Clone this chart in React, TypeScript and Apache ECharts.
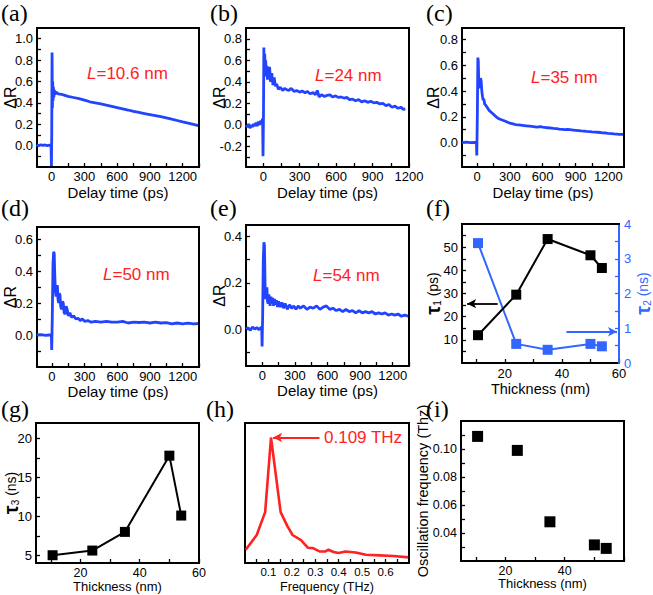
import React, { useEffect, useRef } from "react";
import * as echarts from "echarts";

// ---------- data ----------
const traceA: number[][] = [
  [-140, 0.005], [-120, 0.0], [-100, 0.008], [-80, 0.002], [-60, 0.006], [-40, 0.0], [-20, 0.004], [-6, 0.0],
  [-3, -0.19], [0, 0.1], [3, 0.87], [6, 0.35], [9, 0.6], [12, 0.42], [15, 0.55], [19, 0.45], [24, 0.52],
  [30, 0.48], [40, 0.5], [60, 0.485], [90, 0.48], [120, 0.47], [150, 0.46], [200, 0.45], [250, 0.44],
  [300, 0.425], [350, 0.41], [400, 0.4], [450, 0.39], [500, 0.378], [550, 0.367], [600, 0.355], [650, 0.344],
  [700, 0.333], [750, 0.32], [800, 0.31], [850, 0.3], [900, 0.29], [950, 0.28], [1000, 0.27], [1050, 0.26],
  [1100, 0.247], [1150, 0.235], [1200, 0.222], [1250, 0.21], [1300, 0.198], [1350, 0.185],
];

const traceB: number[][] = [
  [-140, 0.0], [-130, -0.02], [-120, 0.01], [-110, -0.03], [-100, 0.0], [-90, -0.02], [-80, 0.01], [-70, -0.01],
  [-60, 0.02], [-50, -0.01], [-40, 0.03], [-30, 0.0], [-20, 0.04], [-10, 0.02], [-5, 0.06], [-2, -0.29],
  [2, 0.1], [5, 0.72], [8, 0.45], [12, 0.66], [16, 0.5], [20, 0.6], [25, 0.45], [30, 0.55], [35, 0.42],
  [40, 0.52], [45, 0.46], [52, 0.54], [60, 0.4], [70, 0.48], [80, 0.37], [90, 0.44], [100, 0.36], [110, 0.38],
  [125, 0.33], [140, 0.35], [160, 0.32], [175, 0.34], [190, 0.33], [210, 0.32], [230, 0.34], [255, 0.31],
  [275, 0.32], [300, 0.305], [320, 0.315], [345, 0.3], [365, 0.31], [385, 0.29], [410, 0.3], [430, 0.28],
  [445, 0.32], [460, 0.26], [480, 0.28], [505, 0.265], [525, 0.275], [550, 0.28], [570, 0.26], [595, 0.27],
  [620, 0.255], [640, 0.26], [665, 0.25], [690, 0.255], [710, 0.235], [735, 0.24], [760, 0.225], [785, 0.235],
  [810, 0.215], [835, 0.225], [860, 0.21], [885, 0.22], [910, 0.205], [935, 0.21], [960, 0.195], [985, 0.2],
  [1010, 0.18], [1035, 0.19], [1060, 0.165], [1085, 0.175], [1110, 0.155], [1135, 0.165], [1150, 0.145],
  [1170, 0.15],
];

const traceC: number[][] = [
  [-137, 0.0], [-100, 0.003], [-60, 0.0], [-20, 0.002], [-5, 0.0], [-2, -0.1], [3, 0.2], [8, 0.66], [12, 0.63],
  [16, 0.45], [20, 0.48], [26, 0.42], [32, 0.5], [38, 0.48], [44, 0.4], [50, 0.36], [56, 0.33], [62, 0.34],
  [70, 0.3], [80, 0.29], [95, 0.27], [110, 0.25], [130, 0.235], [150, 0.22], [175, 0.2], [200, 0.185],
  [230, 0.175], [260, 0.165], [300, 0.15], [330, 0.145], [350, 0.14], [380, 0.137], [400, 0.135], [430, 0.132],
  [450, 0.13], [480, 0.127], [500, 0.125], [530, 0.122], [550, 0.12], [580, 0.123], [600, 0.12], [630, 0.116],
  [650, 0.115], [680, 0.112], [700, 0.11], [730, 0.108], [750, 0.105], [780, 0.103], [800, 0.1], [830, 0.102],
  [850, 0.1], [880, 0.097], [900, 0.095], [930, 0.092], [950, 0.09], [980, 0.089], [1000, 0.087], [1030, 0.085],
  [1050, 0.083], [1080, 0.081], [1100, 0.08], [1130, 0.078], [1150, 0.075], [1180, 0.074], [1200, 0.072],
  [1230, 0.07], [1250, 0.068], [1280, 0.066], [1300, 0.064], [1343, 0.063],
];

const traceD: number[][] = [
  [-140, 0.0], [-100, 0.002], [-60, -0.002], [-20, 0.0], [-5, 0.0], [-2, -0.094], [3, 0.1], [10, 0.45],
  [16, 0.52], [21, 0.51], [26, 0.38], [32, 0.27], [38, 0.24], [44, 0.3], [50, 0.31], [56, 0.22], [62, 0.2],
  [68, 0.26], [74, 0.25], [80, 0.18], [88, 0.16], [96, 0.21], [104, 0.2], [112, 0.14], [120, 0.13], [130, 0.18],
  [140, 0.16], [150, 0.12], [165, 0.14], [180, 0.11], [200, 0.12], [220, 0.1], [240, 0.105], [260, 0.09],
  [280, 0.1], [300, 0.085], [330, 0.09], [360, 0.08], [400, 0.085], [450, 0.08], [500, 0.085], [550, 0.08],
  [600, 0.08], [650, 0.085], [700, 0.075], [750, 0.08], [800, 0.078], [850, 0.08], [900, 0.075], [950, 0.08],
  [1000, 0.075], [1050, 0.078], [1100, 0.07], [1150, 0.075], [1200, 0.07], [1250, 0.074], [1300, 0.07],
  [1350, 0.072],
];

const traceE: number[][] = [
  [-150, 0.0], [-130, 0.005], [-110, -0.005], [-90, 0.008], [-70, 0.0], [-50, 0.006], [-30, -0.003],
  [-10, 0.008], [-5, 0.0], [-2, -0.075], [3, 0.05], [9, 0.3], [15, 0.375], [20, 0.36], [25, 0.2], [30, 0.13],
  [36, 0.15], [42, 0.18], [48, 0.12], [54, 0.11], [60, 0.15], [66, 0.13], [72, 0.1], [80, 0.14], [88, 0.11],
  [96, 0.135], [104, 0.1], [112, 0.13], [120, 0.105], [130, 0.125], [140, 0.095], [150, 0.12], [165, 0.095],
  [180, 0.115], [195, 0.09], [210, 0.11], [230, 0.085], [250, 0.105], [270, 0.09], [290, 0.1], [310, 0.085],
  [330, 0.1], [350, 0.09], [380, 0.1], [410, 0.085], [440, 0.095], [470, 0.09], [500, 0.1], [530, 0.085],
  [560, 0.095], [590, 0.1], [620, 0.085], [650, 0.09], [680, 0.08], [710, 0.085], [740, 0.075], [770, 0.085],
  [800, 0.075], [830, 0.08], [860, 0.07], [890, 0.08], [920, 0.07], [950, 0.075], [980, 0.07], [1010, 0.075],
  [1040, 0.065], [1070, 0.07], [1100, 0.065], [1130, 0.07], [1160, 0.06], [1190, 0.065], [1220, 0.06],
  [1250, 0.065], [1280, 0.055], [1310, 0.06], [1350, 0.055],
];

const thickness = [10.6, 24, 35, 50, 54];
const tau1 = [12, 29.5, 53.5, 46.5, 41];
const tau2 = [3.45, 0.55, 0.38, 0.55, 0.48];
const tau3 = [5.0, 5.6, 8.0, 17.8, 10.1];
const oscFreq = [0.109, 0.099, 0.048, 0.0315, 0.029];

const spectrum: number[][] = [
  [0.003, 0.104], [0.05, 0.22], [0.086, 0.4], [0.111, 0.986], [0.152, 0.4], [0.181, 0.29], [0.203, 0.22],
  [0.239, 0.18], [0.268, 0.12], [0.29, 0.117], [0.32, 0.09], [0.341, 0.09], [0.356, 0.104], [0.378, 0.086],
  [0.4, 0.078], [0.429, 0.09], [0.472, 0.083], [0.516, 0.065], [0.575, 0.06], [0.633, 0.055], [0.7, 0.044],
];

const delayLabels = [0, 300, 600, 900, 1200];
const delayTicks = [0, 150, 300, 450, 600, 750, 900, 1050, 1200, 1350];
const thickLabels = [20, 40, 60];
const thickTicks = [10, 20, 30, 40, 50, 60];
const freqLabels = [0.1, 0.2, 0.3, 0.4, 0.5, 0.6];
const freqTicks = [0.05, 0.1, 0.15, 0.2, 0.25, 0.3, 0.35, 0.4, 0.45, 0.5, 0.55, 0.6, 0.65];
const lengthLabels = ["10.6", "24", "35", "50", "54"];

// axis ranges per panel: [xmin, xmax, ymin, ymax]
const ranges = [
  [-135, 1350, -0.2, 1.1],
  [-142, 1200, -0.39, 0.9],
  [-137, 1343, -0.19, 0.89],
  [-137, 1350, -0.2, 0.675],
  [-150, 1350, -0.16, 0.45],
  [5, 60, 0, 60],
  [5, 60, 4, 22],
  [0, 0.7, 0, 1.1],
  [5, 60, 0.02, 0.12],
];

// ---------- styling ----------
const FONT = '"Liberation Sans", Arial, Helvetica, sans-serif';
const SERIF = '"Liberation Serif", "Times New Roman", serif';
const BLUE = "#2244ff";
const BLUE2 = "#3366ff";
const RED = "#ff2222";

type AxisCfg = {
  grid: number;
  min: number;
  max: number;
  labels?: number[];
  ticks?: number[];
  fmt?: (v: number) => string;
  name?: string;
  nameGap?: number;
  nameSize?: number;
  labelSize?: number;
  color?: string;
  position?: string;
  margin?: number;
  rich?: any;
  z?: number;
};

function axis(c: AxisCfg): any {
  const color = c.color || "#000";
  return {
    type: "value",
    gridIndex: c.grid,
    min: c.min,
    max: c.max,
    position: c.position,
    z: c.z ?? 0,
    axisLine: { show: true, onZero: false, lineStyle: { color, width: 2 } },
    axisTick: {
      show: !!c.ticks,
      inside: true,
      length: 4,
      customValues: c.ticks,
      lineStyle: { color, width: 1.3 },
    },
    axisLabel: {
      show: !!c.labels,
      customValues: c.labels,
      formatter: c.fmt || ((v: number) => String(v)),
      fontSize: c.labelSize || 13,
      fontFamily: FONT,
      color,
      margin: c.margin ?? 4,
    },
    splitLine: { show: false },
    name: c.name,
    nameLocation: "middle",
    nameGap: c.nameGap ?? 18,
    nameMoveOverlap: false,
    nameRotate: c.position === "left" || c.position === "right" ? 90 : undefined,
    nameTextStyle: { fontSize: c.nameSize || 15, fontFamily: FONT, color, rich: c.rich },
  };
}

const f1 = (v: number) => v.toFixed(1);
const f2 = (v: number) => v.toFixed(2);

const gridBoxes = [
  { left: 37, top: 28, width: 162, height: 139 },
  { left: 246, top: 28, width: 163, height: 139 },
  { left: 462, top: 28, width: 162, height: 139 },
  { left: 37, top: 227, width: 162, height: 140 },
  { left: 246, top: 225, width: 163, height: 141 },
  { left: 462, top: 224, width: 157, height: 139 },
  { left: 36, top: 423, width: 163, height: 140 },
  { left: 245, top: 423, width: 164, height: 140 },
  { left: 461, top: 421, width: 163, height: 140 },
];
const grids = gridBoxes.map((g) => ({ ...g, show: false, containLabel: false, outerBoundsMode: "none" }));

const tauRich = (color: string) => ({
  t: { fontSize: 20, fontWeight: "bold", fontFamily: FONT, color },
  s: { fontSize: 10, fontFamily: FONT, color, padding: [8, 0, 0, 0] },
  p: { fontSize: 14, fontFamily: FONT, color },
});

const arrowItem = (from: number[], to: number[], color: string): any[] => [
  { coord: from, symbol: "none", lineStyle: { color, width: 1.8, type: "solid" } },
  { coord: to, symbol: "arrow", symbolSize: [7, 9] },
];

const markLine = (data: any[]) => ({
  silent: true,
  symbol: ["none", "none"],
  label: { show: false },
  emphasis: { disabled: true },
  lineStyle: { color: "#000", width: 2, type: "solid" },
  data,
});

// box outline (top edge + right edge) of panel g, drawn as an unclipped line along the axis extents
const frameSeries = (g: number, withRight: boolean) => {
  const [x0, x1, y0, y1] = ranges[g];
  const pts = withRight ? [[x0, y1], [x1, y1], [x1, y0]] : [[x0, y1], [x1, y1]];
  return {
    type: "line",
    xAxisIndex: g,
    yAxisIndex: g,
    data: pts,
    showSymbol: false,
    symbol: "none",
    clip: false,
    silent: true,
    z: 6,
    lineStyle: { color: "#000", width: 2, cap: "square" },
    itemStyle: { color: "#000" },
  };
};

function buildOption(): any {
  const R = ranges;
  const xAxis: any[] = [
    axis({ grid: 0, min: R[0][0], max: R[0][1], labels: delayLabels, ticks: delayTicks, name: "Delay time (ps)", nameGap: 18, margin: 3 }),
    axis({ grid: 1, min: R[1][0], max: R[1][1], labels: delayLabels, ticks: delayTicks, name: "Delay time (ps)", nameGap: 18, margin: 3 }),
    axis({ grid: 2, min: R[2][0], max: R[2][1], labels: delayLabels, ticks: delayTicks, name: "Delay time (ps)", nameGap: 18, margin: 3 }),
    axis({ grid: 3, min: R[3][0], max: R[3][1], labels: delayLabels, ticks: delayTicks, name: "Delay time (ps)", nameGap: 17, margin: 3 }),
    axis({ grid: 4, min: R[4][0], max: R[4][1], labels: delayLabels, ticks: delayTicks, name: "Delay time (ps)", nameGap: 17, margin: 3 }),
    axis({ grid: 5, min: R[5][0], max: R[5][1], labels: thickLabels, ticks: thickTicks, name: "Thickness (nm)", nameGap: 18, nameSize: 14.5, margin: 4 }),
    axis({ grid: 6, min: R[6][0], max: R[6][1], labels: thickLabels, ticks: thickTicks, name: "Thickness (nm)", nameGap: 17, nameSize: 13, labelSize: 12.5, margin: 3 }),
    axis({ grid: 7, min: R[7][0], max: R[7][1], labels: freqLabels, ticks: freqTicks, fmt: f1, name: "Frequency (THz)", nameGap: 17, nameSize: 12.5, labelSize: 11.5, margin: 3 }),
    axis({ grid: 8, min: R[8][0], max: R[8][1], labels: [20, 40], ticks: thickTicks, name: "Thickness (nm)", nameGap: 16, nameSize: 13, labelSize: 12.5, margin: 3 }),
  ];
  const yAxis: any[] = [
    axis({ grid: 0, min: R[0][2], max: R[0][3], labels: [0, 0.2, 0.4, 0.6, 0.8, 1.0], ticks: [-0.1, 0, 0.1, 0.2, 0.3, 0.4, 0.5, 0.6, 0.7, 0.8, 0.9, 1.0], fmt: f1, name: "ΔR", nameGap: 19, nameSize: 16, position: "left" }),
    axis({ grid: 1, min: R[1][2], max: R[1][3], labels: [-0.2, 0, 0.2, 0.4, 0.6, 0.8], ticks: [-0.3, -0.2, -0.1, 0, 0.1, 0.2, 0.3, 0.4, 0.5, 0.6, 0.7, 0.8], fmt: f1, name: "ΔR", nameGap: 19, nameSize: 16, position: "left" }),
    axis({ grid: 2, min: R[2][2], max: R[2][3], labels: [0, 0.2, 0.4, 0.6, 0.8], ticks: [-0.1, 0, 0.1, 0.2, 0.3, 0.4, 0.5, 0.6, 0.7, 0.8], fmt: f1, name: "ΔR", nameGap: 21, nameSize: 16, position: "left" }),
    axis({ grid: 3, min: R[3][2], max: R[3][3], labels: [0, 0.2, 0.4, 0.6], ticks: [-0.1, 0, 0.1, 0.2, 0.3, 0.4, 0.5, 0.6], fmt: f1, name: "ΔR", nameGap: 19, nameSize: 16, position: "left" }),
    axis({ grid: 4, min: R[4][2], max: R[4][3], labels: [0, 0.2, 0.4], ticks: [-0.1, 0, 0.1, 0.2, 0.3, 0.4], fmt: f1, name: "ΔR", nameGap: 19, nameSize: 16, position: "left" }),
    axis({ grid: 5, min: R[5][2], max: R[5][3], labels: [10, 20, 30, 40, 50], ticks: [5, 10, 15, 20, 25, 30, 35, 40, 45, 50, 55], name: "{t|τ}{s|1}{p| (ps)}", nameGap: 19, position: "left", rich: tauRich("#000") }),
    axis({ grid: 6, min: R[6][2], max: R[6][3], labels: [5, 10, 15, 20], ticks: [5, 7.5, 10, 12.5, 15, 17.5, 20], name: "{t|τ}{s|3}{p| (ns)}", nameGap: 15, position: "left", labelSize: 13, rich: tauRich("#000") }),
    axis({ grid: 7, min: R[7][2], max: R[7][3], position: "left" }),
    axis({ grid: 8, min: R[8][2], max: R[8][3], labels: [0.04, 0.06, 0.08, 0.1], ticks: [0.03, 0.04, 0.05, 0.06, 0.07, 0.08, 0.09, 0.1, 0.11], fmt: f2, name: "Oscillation frequency (Thz)", nameGap: 31, nameSize: 14.5, labelSize: 12.5, position: "left" }),
    axis({ grid: 5, min: 0, max: 4, labels: [0, 1, 2, 3, 4], ticks: [0.5, 1, 1.5, 2, 2.5, 3, 3.5], name: "{t|τ}{s|2}{p| (ns)}", nameGap: 14, position: "right", color: BLUE2, margin: 5, rich: tauRich(BLUE2), z: 20 }),
  ];

  const traces = [traceA, traceB, traceC, traceD, traceE];
  const series: any[] = traces.map((d, i) => ({
    type: "line",
    xAxisIndex: i,
    yAxisIndex: i,
    data: d,
    showSymbol: false,
    clip: true,
    lineStyle: { color: BLUE, width: 2.8 },
    itemStyle: { color: BLUE },
  }));

  series.push({
    type: "line",
    xAxisIndex: 5,
    yAxisIndex: 5,
    data: thickness.map((t, i) => [t, tau1[i]]),
    symbol: "rect",
    symbolSize: 10,
    lineStyle: { color: "#000", width: 2 },
    itemStyle: { color: "#000", opacity: 1 },
    markLine: markLine([arrowItem([17.5, 25.6], [6.8, 25.6], "#000")]),
    z: 3,
  });
  series.push({
    type: "line",
    xAxisIndex: 5,
    yAxisIndex: 9,
    data: thickness.map((t, i) => [t, tau2[i]]),
    symbol: "rect",
    symbolSize: 10,
    lineStyle: { color: BLUE2, width: 2 },
    itemStyle: { color: BLUE2, opacity: 1 },
    markLine: markLine([arrowItem([41.6, 0.9], [59.3, 0.9], BLUE2)]),
    z: 2,
  });
  series.push({
    type: "line",
    xAxisIndex: 6,
    yAxisIndex: 6,
    data: thickness.map((t, i) => [t, tau3[i]]),
    symbol: "rect",
    symbolSize: 10,
    lineStyle: { color: "#000", width: 2 },
    itemStyle: { color: "#000", opacity: 1 },
  });
  series.push({
    type: "line",
    xAxisIndex: 7,
    yAxisIndex: 7,
    data: spectrum,
    showSymbol: false,
    lineStyle: { color: RED, width: 2.6 },
    itemStyle: { color: RED },
    markLine: markLine([arrowItem([0.318, 0.986], [0.12, 0.986], RED)]),
  });
  series.push({
    type: "scatter",
    xAxisIndex: 8,
    yAxisIndex: 8,
    data: thickness.map((t, i) => [t, oscFreq[i]]),
    symbol: "rect",
    symbolSize: 11,
    itemStyle: { color: "#000", opacity: 1 },
  });
  // panel box outlines (top and right edges; (f) has its blue axis on the right)
  for (let g = 0; g < 9; g++) series.push(frameSeries(g, g !== 5));

  const letters = ["(a)", "(b)", "(c)", "(d)", "(e)", "(f)", "(g)", "(h)", "(i)"];
  const letterPos = [
    [1, 13], [210, 13], [426, 13],
    [1, 208], [210, 208], [426, 208],
    [1, 409], [206, 409], [426, 409],
  ];
  const lPos = [[87, 73], [315, 75], [531, 77], [103, 274], [313, 275]];

  const graphic: any[] = [];
  gridBoxes.forEach((g, i) => {
    graphic.push({
      type: "rect",
      silent: true,
      z: 50,
      shape: { x: g.left - 1, y: g.top - 1, width: g.width + 2, height: 2 },
      style: { fill: "#000" },
    });
    if (i !== 5) {
      graphic.push({
        type: "rect",
        silent: true,
        z: 50,
        shape: { x: g.left + g.width - 1, y: g.top - 1, width: 2, height: g.height + 2 },
        style: { fill: "#000" },
      });
    }
  });
  letters.forEach((t, i) => {
    graphic.push({
      type: "text",
      x: letterPos[i][0],
      y: letterPos[i][1],
      silent: true,
      style: { text: t, fill: "#000", fontSize: 24, fontFamily: SERIF, align: "left", verticalAlign: "middle" },
    });
  });
  lengthLabels.forEach((t, i) => {
    graphic.push({
      type: "text",
      x: lPos[i][0],
      y: lPos[i][1],
      silent: true,
      style: {
        text: "{i|L}=" + t + " nm",
        fill: RED,
        fontSize: 17,
        fontFamily: FONT,
        align: "left",
        verticalAlign: "middle",
        rich: { i: { fontStyle: "italic", fill: RED, fontSize: 17, fontFamily: FONT } },
      },
    });
  });
  graphic.push({
    type: "text",
    x: 324,
    y: 437,
    silent: true,
    style: { text: "0.109 THz", fill: RED, fontSize: 17, fontFamily: FONT, align: "left", verticalAlign: "middle" },
  });

  return {
    animation: false,
    backgroundColor: "#fff",
    grid: grids,
    xAxis,
    yAxis,
    series,
    graphic,
  };
}

export default function App() {
  const ref = useRef<HTMLDivElement>(null);
  useEffect(() => {
    if (!ref.current) return;
    const chart = echarts.init(ref.current, null, { renderer: "svg" });
    chart.setOption(buildOption());
    return () => chart.dispose();
  }, []);
  return (
    <div
      ref={ref}
      style={{ position: "fixed", left: 0, top: 0, width: 653, height: 595, background: "#fff" }}
    />
  );
}
